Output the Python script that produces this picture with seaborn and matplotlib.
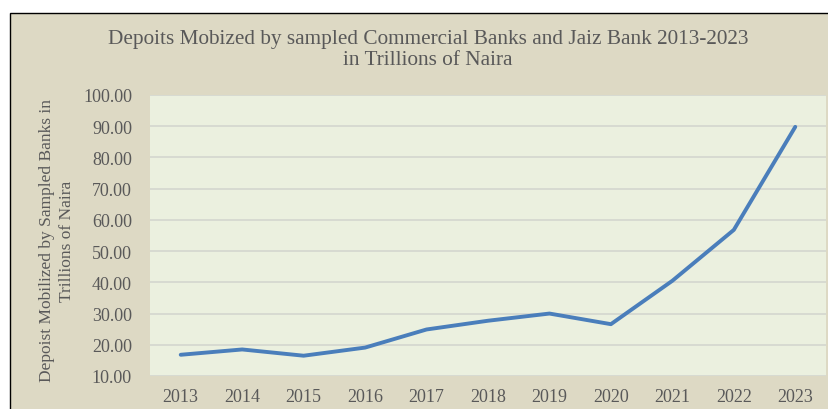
import matplotlib
matplotlib.use("Agg")
import matplotlib.pyplot as plt
import matplotlib.patches as mpatches
import seaborn as sns
import pandas as pd

years = [2013, 2014, 2015, 2016, 2017, 2018, 2019, 2020, 2021, 2022, 2023]
deposits = [16.8, 18.5, 16.5, 19.1, 24.9, 27.7, 30.0, 26.6, 40.5, 56.8, 89.8]
y_ticks = [10, 20, 30, 40, 50, 60, 70, 80, 90, 100]

title = "Depoits Mobized by sampled Commercial Banks and Jaiz Bank 2013-2023\nin Trillions of Naira"
ylabel = "Depoist Mobilized by Sampled Banks in\nTrillions of Naira"

df = pd.DataFrame({"year": years, "deposit": deposits})

sns.set_theme(style="white")
plt.rcParams["font.family"] = ["Liberation Serif", "DejaVu Serif"]

W, H = 829, 410
fig = plt.figure(figsize=(W / 100, H / 100), dpi=100)
fig.patch.set_facecolor("white")

# outer chart frame (beige, black border on left/top)
frame = mpatches.Rectangle((10 / W, -0.05), 1.2, (H - 14) / H + 0.05,
                           transform=fig.transFigure, facecolor="#DDD9C4",
                           edgecolor="black", linewidth=1.0, zorder=-5)
fig.patches.append(frame)

ax = fig.add_axes([150 / W, (H - 377) / H, (826 - 150) / W, (377 - 96) / H])
ax.set_zorder(2)
ax.set_facecolor("#EBF0DF")

sns.lineplot(data=df, x="year", y="deposit", ax=ax, color="#4A7EBB",
             linewidth=2.8, zorder=3)

ax.set_xlim(2012.5, 2023.5)
ax.set_ylim(10, 100)
ax.set_yticks(y_ticks)
ax.set_yticklabels([f"{v:.2f}" for v in y_ticks])
ax.set_xticks(years)
ax.set_xticklabels([str(y) for y in years])
ax.grid(axis="y", color="#D4D6CF", linewidth=1.2)
ax.grid(axis="x", visible=False)
ax.set_axisbelow(True)
for s in ax.spines.values():
    s.set_visible(False)
ax.tick_params(axis="both", length=0, labelsize=13, colors="#595959")
ax.tick_params(axis="y", pad=13)
ax.tick_params(axis="x", pad=9)
ax.set_xlabel("")
ax.set_ylabel(ylabel, fontsize=12.5, color="#595959", linespacing=1.35)
ax.yaxis.set_label_coords((75 - 150) / (826 - 150), (377 - 241) / (377 - 96))

fig.text(428 / W, 1 - 50 / H, title, ha="center", va="center",
         fontsize=15.3, color="#595959", linespacing=1.15, zorder=3)

fig.savefig("out.png", dpi=100)
